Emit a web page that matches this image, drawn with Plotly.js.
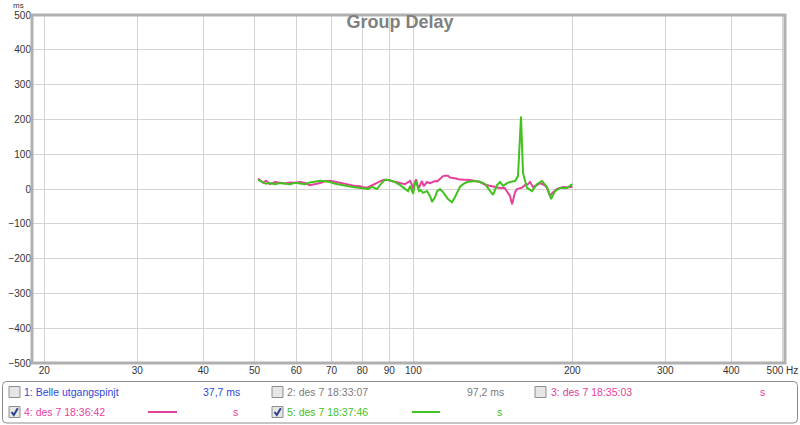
<!DOCTYPE html>
<html>
<head>
<meta charset="utf-8">
<script src="https://cdn.plot.ly/plotly-3.0.1.min.js"></script>
<style>
  html, body { margin: 0; padding: 0; background: #ffffff; }
  #chart { width: 800px; height: 425px; }
</style>
</head>
<body>
<div id="chart"></div>
<script>
// ---- data (frequency in Hz, group delay in ms) ----
const freqPink = [50.8, 51.9, 52.6, 53.5, 54.7, 55.9, 57.1, 58.4, 59.7, 61.0, 62.3, 63.7, 65.1, 66.6, 68.0, 69.5, 71.1, 72.6, 74.2, 75.9, 77.5, 79.2, 81.0, 82.1, 83.5, 85.3, 87.6, 89.4, 91.5, 94.4, 96.4, 97.7, 98.6, 99.4, 99.9, 100.7, 101.2, 101.9, 102.5, 103.2, 103.8, 104.6, 105.2, 106.1, 107.5, 108.5, 109.9, 111.0, 112.3, 113.8, 114.8, 116.3, 117.3, 118.9, 120.4, 122.5, 125.3, 128.0, 130.9, 133.7, 136.7, 139.7, 142.8, 145.9, 148.9, 150.4, 152.4, 153.8, 155.8, 157.1, 159.2, 160.6, 162.7, 164.8, 166.3, 168.5, 171.4, 173.7, 176.0, 177.5, 179.1, 181.5, 183.1, 185.5, 187.1, 189.6, 192.1, 195.4, 200.0];
const delayPink = [30, 18, 24, 14, 20, 17, 16, 19, 18, 20, 17, 11, 13, 17, 22, 24, 21, 18, 14, 12, 9, 8, 4, 5, 10, 17, 26, 26, 23, 17, 14, 20, 23, 12, 0, 20, 28, 10, 3, 15, 23, 8, 14, 20, 17, 20, 23, 22, 30, 37, 38, 38, 33, 32, 30, 27, 27, 26, 23, 20, 12, 9, 6, 3, 3, -6, -20, -44, -9, 0, 3, 4, 11, 14, 20, 6, 11, 17, 13, 10, 3, -20, -12, -6, 0, 3, 6, 5, 6];

const freqGreen = [50.8, 51.9, 52.6, 53.5, 54.7, 55.9, 57.1, 58.4, 59.7, 61.0, 62.3, 63.7, 65.1, 66.6, 68.0, 69.5, 71.1, 72.6, 74.2, 75.9, 77.5, 79.2, 81.0, 82.1, 83.5, 85.3, 86.5, 88.4, 90.3, 92.3, 94.4, 96.4, 97.7, 98.6, 99.9, 100.7, 101.2, 102.5, 103.2, 104.3, 106.1, 107.5, 108.5, 109.9, 110.9, 112.3, 113.8, 116.3, 118.3, 119.9, 122.5, 124.2, 126.4, 130.9, 133.7, 136.7, 139.7, 141.5, 144.0, 145.9, 147.9, 150.4, 152.4, 155.8, 157.8, 159.9, 161.3, 164.1, 167.7, 171.4, 175.2, 179.1, 182.3, 185.5, 189.6, 195.4, 200.0];
const delayGreen = [26, 20, 15, 17, 14, 17, 15, 14, 18, 16, 14, 19, 22, 24, 22, 20, 15, 12, 10, 7, 5, 3, 1, 0, 6, 0, 12, 27, 25, 20, 11, 0, -6, 9, -14, 17, 20, -6, -3, -11, -6, -20, -37, -23, -6, 0, -9, -29, -38, -23, 6, 14, 20, 23, 21, 14, -6, -17, 11, 20, 9, 17, 20, 23, 37, 208, 46, 3, -6, 14, 23, 6, -29, -6, 3, 3, 14];

const xTickVals = [20, 30, 40, 50, 60, 70, 80, 90, 100, 200, 300, 400, 500];
const xTickText = ['20', '30', '40', '50', '60', '70', '80', '90', '100', '200', '300', '400', '500 Hz'];
const yTickVals = [-500, -400, -300, -200, -100, 0, 100, 200, 300, 400, 500];

const legendRow1 = ['1: Belle utgangspinjt', '37,7 ms', '2: des 7 18:33:07', '97,2 ms', '3: des 7 18:35:03', 's'];
const legendRow2 = ['4: des 7 18:36:42', 's', '5: des 7 18:37:46', 's'];

// ---- styles / geometry ----
const PINK = '#e4419c';
const GREEN = '#42c21f';
const BLUE = '#3047d6';
const GRAYTXT = '#7d7d7d';
const FONT = 'Liberation Sans, Arial, sans-serif';
const W = 800, H = 425, L = 32, R = 15, T = 15, B = 62;
const pw = W - L - R, ph = H - T - B;
const px = x => (x - L) / pw;
const py = y => (H - B - y) / ph;

const traces = [
  { x: freqPink, y: delayPink, type: 'scatter', mode: 'lines',
    line: { color: PINK, width: 2 }, hoverinfo: 'skip' },
  { x: freqGreen, y: delayGreen, type: 'scatter', mode: 'lines',
    line: { color: GREEN, width: 2 }, hoverinfo: 'skip' }
];

const shapes = [];
const annotations = [];

// plot frame
shapes.push({ type: 'rect', xref: 'paper', yref: 'paper', x0: 0, x1: 1, y0: 0, y1: 1,
  line: { color: '#b0b0b0', width: 3 }, layer: 'above' });

// legend box (rounded)
function roundRect(x0, y0, x1, y1, r) {
  const P = (x, y) => px(x) + ',' + py(y);
  return 'M ' + P(x0 + r, y0) + ' L ' + P(x1 - r, y0) + ' Q ' + P(x1, y0) + ' ' + P(x1, y0 + r) +
    ' L ' + P(x1, y1 - r) + ' Q ' + P(x1, y1) + ' ' + P(x1 - r, y1) +
    ' L ' + P(x0 + r, y1) + ' Q ' + P(x0, y1) + ' ' + P(x0, y1 - r) +
    ' L ' + P(x0, y0 + r) + ' Q ' + P(x0, y0) + ' ' + P(x0 + r, y0) + ' Z';
}
shapes.push({ type: 'path', xref: 'paper', yref: 'paper', path: roundRect(2.5, 381.5, 797.5, 423, 4),
  line: { color: '#8c8c8c', width: 1 }, fillcolor: 'rgba(0,0,0,0)' });

// checkboxes
function checkbox(x, yc, checked) {
  shapes.push({ type: 'rect', xref: 'paper', yref: 'paper',
    x0: px(x), x1: px(x + 11), y0: py(yc - 5.5), y1: py(yc + 5.5),
    line: { color: '#8e8e8e', width: 1 }, fillcolor: '#e6e6e6' });
  if (checked) {
    shapes.push({ type: 'path', xref: 'paper', yref: 'paper',
      path: 'M ' + px(x + 2.5) + ',' + py(yc) + ' L ' + px(x + 4.8) + ',' + py(yc + 3) +
            ' L ' + px(x + 8.8) + ',' + py(yc - 3.8),
      line: { color: '#2b3f8c', width: 2 } });
  }
}
const r1 = 392, r2 = 412;
checkbox(9, r1, false); checkbox(272, r1, false); checkbox(535, r1, false);
checkbox(9, r2, true); checkbox(272, r2, true);

// legend line samples
shapes.push({ type: 'line', xref: 'paper', yref: 'paper', x0: px(148), x1: px(177), y0: py(r2), y1: py(r2),
  line: { color: PINK, width: 2 } });
shapes.push({ type: 'line', xref: 'paper', yref: 'paper', x0: px(412), x1: px(440), y0: py(r2), y1: py(r2),
  line: { color: GREEN, width: 2 } });

function label(text, x, y, color, size) {
  annotations.push({ text: text, xref: 'paper', yref: 'paper', x: px(x), y: py(y),
    xanchor: 'left', yanchor: 'middle', showarrow: false, borderpad: 0,
    font: { family: FONT, size: size || 10.5, color: color } });
}
label(legendRow1[0], 23, r1, BLUE);
label(legendRow1[1], 202, r1, BLUE);
label(legendRow1[2], 286, r1, GRAYTXT);
label(legendRow1[3], 466, r1, GRAYTXT);
label(legendRow1[4], 550, r1, PINK);
label(legendRow1[5], 759, r1, PINK);
label(legendRow2[0], 23, r2, PINK);
label(legendRow2[1], 232, r2, PINK);
label(legendRow2[2], 286, r2, GREEN);
label(legendRow2[3], 496, r2, GREEN);

// unit label
annotations.push({ text: 'ms', xref: 'paper', yref: 'paper', x: px(25), y: py(0.5),
  xanchor: 'right', yanchor: 'top', showarrow: false, borderpad: 0,
  font: { family: FONT, size: 8, color: '#333333' } });

const layout = {
  width: W, height: H,
  margin: { l: L, r: R, t: T, b: B, pad: 0 },
  paper_bgcolor: '#ffffff', plot_bgcolor: '#ffffff',
  showlegend: false,
  title: { text: '<b>Group Delay</b>', x: 0.5, xref: 'container', xanchor: 'center',
    y: 1 - 22 / H, yref: 'container', yanchor: 'middle',
    font: { family: FONT, size: 18, color: '#808080' } },
  xaxis: {
    type: 'log', range: [1.2777, 2.7038],
    tickmode: 'array', tickvals: xTickVals, ticktext: xTickText,
    showgrid: true, gridcolor: '#d4d4d4', gridwidth: 1,
    zeroline: false, showline: false, ticks: '',
    tickfont: { family: FONT, size: 10, color: '#333333' }
  },
  yaxis: {
    range: [-500, 500],
    tickmode: 'array', tickvals: yTickVals,
    showgrid: true, gridcolor: '#d4d4d4', gridwidth: 1,
    zeroline: false, showline: false, ticks: '',
    tickfont: { family: FONT, size: 10, color: '#333333' }
  },
  shapes: shapes,
  annotations: annotations
};

Plotly.newPlot('chart', traces, layout, { staticPlot: true, displayModeBar: false });
</script>
</body>
</html>
